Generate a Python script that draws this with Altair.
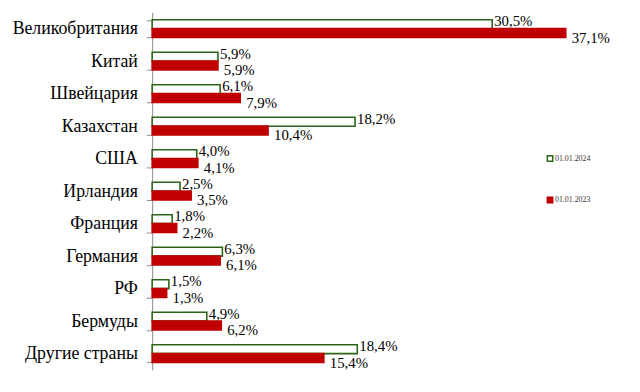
import altair as alt
import pandas as pd

countries = ["Великобритания", "Китай", "Швейцария", "Казахстан", "США", "Ирландия",
             "Франция", "Германия", "РФ", "Бермуды", "Другие страны"]
v2024 = [30.5, 5.9, 6.1, 18.2, 4.0, 2.5, 1.8, 6.3, 1.5, 4.9, 18.4]
v2023 = [37.1, 5.9, 7.9, 10.4, 4.1, 3.5, 2.2, 6.1, 1.3, 6.2, 15.4]
series = ["01.01.2024", "01.01.2023"]

rows = []
for c, a, b in zip(countries, v2024, v2023):
    rows.append({"country": c, "series": series[0], "value": a})
    rows.append({"country": c, "series": series[1], "value": b})
df = pd.DataFrame(rows)
df["label"] = df["value"].map(lambda v: f"{v:.1f}".replace(".", ",") + "%")

green = "#2a6418"
red = "#c00000"
SERIF = "Liberation Serif"

y_enc = alt.Y("country:N", sort=countries, title=None,
              scale=alt.Scale(paddingInner=0.46, paddingOuter=0.23),
              axis=alt.Axis(labelFont=SERIF, labelFontSize=18, labelColor="black",
                            domainColor="#8c8c8c", tickColor="#8c8c8c", tickSize=6,
                            tickBand="extent", labelPadding=9, grid=False))
yoff = alt.YOffset("series:N", sort=series, scale=alt.Scale(paddingInner=0, paddingOuter=0))
x_enc = alt.X("value:Q", scale=alt.Scale(domain=[0, 39.5], nice=False, zero=True), axis=None)

leg = alt.Legend(title=None, orient="none", legendX=399, legendY=144,
                 symbolType="square", symbolSize=30, symbolStrokeWidth=1.5,
                 labelFont=SERIF, labelFontSize=8,
                 labelColor="#333333", rowPadding=30, labelOffset=1)

bars = alt.Chart(df).mark_bar(strokeWidth=1.6, size=9).encode(
    y=y_enc, yOffset=yoff, x=x_enc,
    fill=alt.Fill("series:N", sort=series,
                  scale=alt.Scale(domain=series, range=["white", red]), legend=leg),
    stroke=alt.Stroke("series:N", sort=series,
                      scale=alt.Scale(domain=series, range=[green, red]), legend=leg),
)

txt_font = dict(font=SERIF, fontSize=15, color="black", align="left", baseline="middle")
t24 = alt.Chart(df).transform_filter(alt.datum.series == series[0]).mark_text(dx=2, dy=-3, **txt_font).encode(
    y=alt.Y("country:N", sort=countries), yOffset=yoff, x=x_enc, text="label:N")
t23 = alt.Chart(df).transform_filter(alt.datum.series == series[1]).mark_text(dx=6, dy=5, **txt_font).encode(
    y=alt.Y("country:N", sort=countries), yOffset=yoff, x=x_enc, text="label:N")

chart = alt.layer(bars, t24, t23).properties(
    width=446, height=362,
    autosize=alt.AutoSizeParams(type="none"),
    padding={"left": 146, "top": 2, "right": 40, "bottom": 20},
).configure_view(stroke=None)

chart.save("out.html", embed_options={"renderer": "svg", "actions": False})
